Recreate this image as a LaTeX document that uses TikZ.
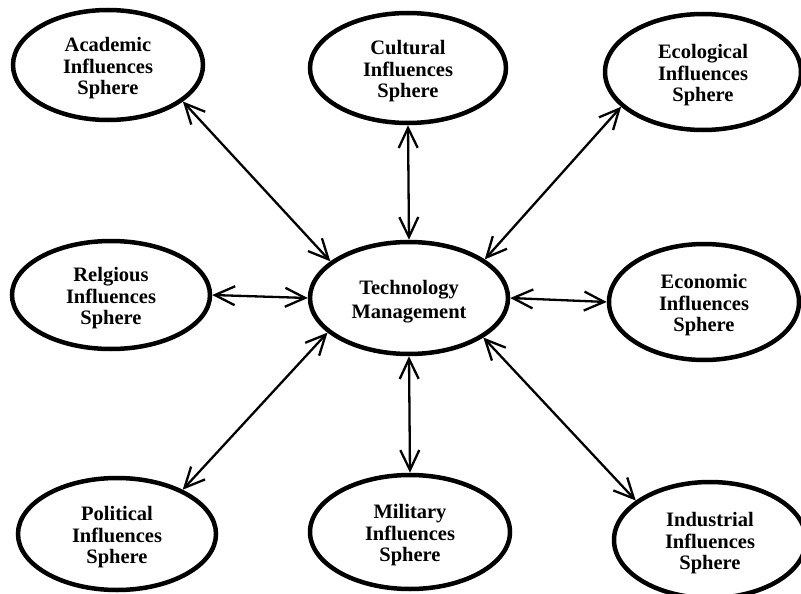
\documentclass[tikz,border=0pt]{standalone}
\usepackage{fontspec}
\setmainfont{Liberation Serif}
\usetikzlibrary{shapes.geometric,arrows.meta}
\newcommand\spheretext[2][21.5pt]{\raisebox{-4pt}[\height][\depth]{\fontsize{20.5}{#1}\selectfont\begin{tabular}{@{}c@{}}#2\end{tabular}}}
\tikzset{
  sphere/.style={ellipse, draw=black, line width=4.5pt, inner sep=0pt,
    font=\bfseries},
  link/.style={line width=2.3pt, {Straight Barb[length=20pt,width=19pt]}-{Straight Barb[length=20pt,width=19pt]}}
}
\begin{document}
\begin{tikzpicture}[x=1pt,y=-1pt]
\useasboundingbox (0,0) rectangle (801,594);
\clip (0,0) rectangle (801,594);
\node[sphere, minimum width=190pt, minimum height=110pt] (acad) at (108,65) {\spheretext{Academic\\Influences\\Sphere}};
\node[sphere, minimum width=196pt, minimum height=110pt] (cult) at (408,68) {\spheretext{Cultural\\Influences\\Sphere}};
\node[sphere, minimum width=196pt, minimum height=116pt] (eco) at (703,72) {\spheretext{Ecological\\Influences\\Sphere}};
\node[sphere, minimum width=198pt, minimum height=108pt] (rel) at (111,295) {\spheretext{Relgious\\Influences\\Sphere}};
\node[sphere, minimum width=198pt, minimum height=112pt] (tm) at (409,298) {\spheretext[24pt]{Technology\\Management}};
\node[sphere, minimum width=190pt, minimum height=116pt] (econ) at (704,302) {\spheretext{Economic\\Influences\\Sphere}};
\node[sphere, minimum width=198pt, minimum height=112pt] (pol) at (117,534) {\spheretext{Political\\Influences\\Sphere}};
\node[sphere, minimum width=200pt, minimum height=114pt] (mil) at (410,532) {\spheretext{Military\\Influences\\Sphere}};
\node[sphere, minimum width=192pt, minimum height=116pt] (ind) at (710,540) {\spheretext{Industrial\\Influences\\Sphere}};
\draw[link] (acad.-26) -- (tm.155);
\draw[link] (cult.south) -- (tm.north);
\draw[link] (eco.203) -- (tm.27);
\draw[link] (rel.east) -- (tm.west);
\draw[link] (tm.east) -- (econ.west);
\draw[link] (pol.34) -- (tm.203);
\draw[link] (tm.south) -- (mil.north);
\draw[link] (tm.-28) -- (ind.152);
\end{tikzpicture}
\end{document}
